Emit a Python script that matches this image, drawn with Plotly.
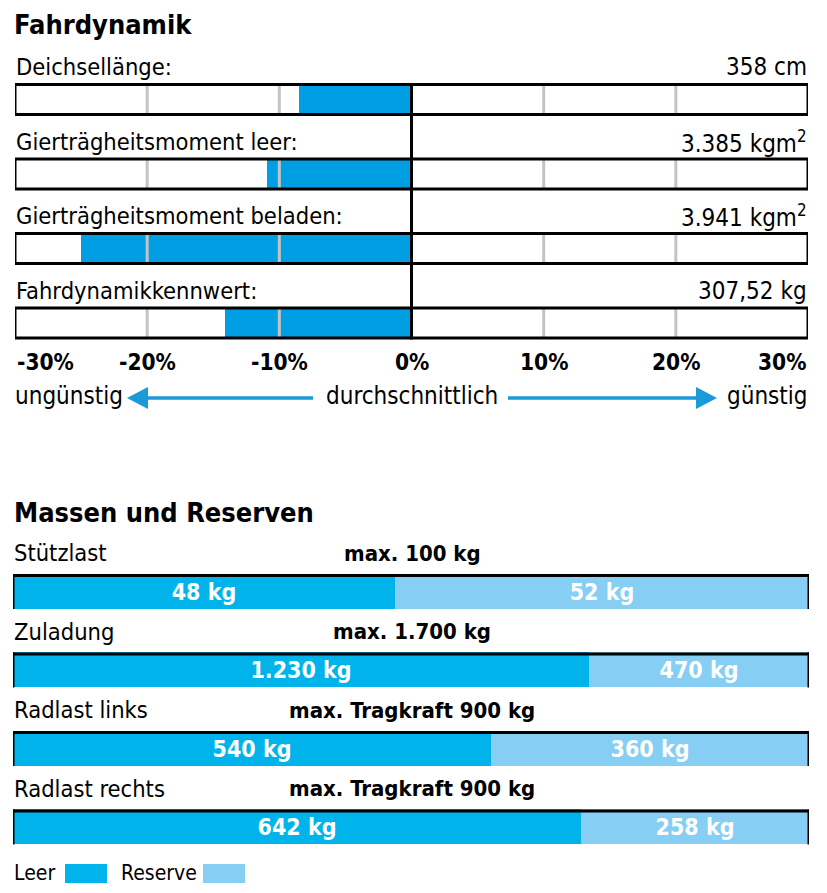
import plotly.graph_objects as go

# ---------------- data ----------------
dyn_labels = ["Deichsellänge:", "Gierträgheitsmoment leer:",
              "Gierträgheitsmoment beladen:", "Fahrdynamikkennwert:"]
dyn_values_text = ["358 cm", "3.385 kgm<sup>2</sup>", "3.941 kgm<sup>2</sup>", "307,52 kg"]
dyn_deviation = [-8.5, -10.9, -25.0, -14.1]          # percent vs. average
tick_vals = [-30, -20, -10, 0, 10, 20, 30]
tick_text = ["-30%", "-20%", "-10%", "0%", "10%", "20%", "30%"]
grid_vals = [-20, -10, 10, 20]

mass_labels = ["Stützlast", "Zuladung", "Radlast links", "Radlast rechts"]
mass_max_prefix = ["max.", "max.", "max. Tragkraft", "max. Tragkraft"]
mass_max = [100, 1700, 900, 900]
mass_leer = [48, 1230, 540, 642]
mass_reserve = [52, 470, 360, 258]

# ---------------- styling ----------------
OFF = 8                      # page body margin of the browser
W, H = 827 - OFF, 893 - OFF
FONT = "DejaVu Sans Condensed, Roboto, sans-serif"
BLUE_TOP = "#009fe3"
BLUE_DARK = "#00b4eb"
BLUE_LIGHT = "#87cef5"
GRID = "#c4c4c4"
ARROW = "#1a9ad8"


def px_x(p):
    return (p - OFF) / W


def px_y(p):
    return 1 - (p - OFF) / H


def de_num(v):
    return f"{v:,}".replace(",", ".")


fig = go.Figure()

rows = list(range(len(dyn_labels)))

# top bars
fig.add_trace(go.Bar(
    x=dyn_deviation, y=rows, orientation="h", width=0.4,
    marker=dict(color=BLUE_TOP, line=dict(width=0)),
    xaxis="x", yaxis="y", showlegend=False, hoverinfo="skip",
))

# bottom stacked bars (fractions of max)
leer_frac = [l / m for l, m in zip(mass_leer, mass_max)]
res_frac = [r / m for r, m in zip(mass_reserve, mass_max)]
fig.add_trace(go.Bar(
    x=leer_frac, y=rows, orientation="h", width=0.446,
    marker=dict(color=BLUE_DARK, line=dict(width=0)),
    text=[de_num(v) + " kg" for v in mass_leer], textposition="inside",
    insidetextanchor="middle", constraintext="none",
    textfont=dict(family=FONT, size=23, color="white", weight="bold"),
    xaxis="x2", yaxis="y2", showlegend=False, hoverinfo="skip", name="Leer",
))
fig.add_trace(go.Bar(
    x=res_frac, y=rows, orientation="h", width=0.446,
    marker=dict(color=BLUE_LIGHT, line=dict(width=0)),
    text=[de_num(v) + " kg" for v in mass_reserve], textposition="inside",
    insidetextanchor="middle", constraintext="none",
    textfont=dict(family=FONT, size=23, color="white", weight="bold"),
    xaxis="x2", yaxis="y2", showlegend=False, hoverinfo="skip", name="Reserve",
))

shapes = []
annotations = []

# top section shapes
half = 0.201
for i in rows:
    for g in grid_vals:
        shapes.append(dict(type="line", xref="x", yref="y", x0=g, x1=g,
                           y0=i - half, y1=i + half,
                           line=dict(color=GRID, width=3), layer="above"))
    shapes.append(dict(type="rect", xref="x", yref="y", x0=tick_vals[0], x1=tick_vals[-1],
                       y0=i - half, y1=i + half,
                       line=dict(color="black", width=3), layer="above"))
shapes.append(dict(type="line", xref="x", yref="y", x0=0, x1=0,
                   y0=rows[0] - half - 0.02, y1=rows[-1] + half + 0.02,
                   line=dict(color="black", width=3), layer="above"))

for i in rows:
    annotations.append(dict(xref="paper", yref="y", x=px_x(14), y=i - 0.43,
                            xanchor="left", yanchor="middle", showarrow=False,
                            text=dyn_labels[i], font=dict(family=FONT, size=23.5, color="black")))
    annotations.append(dict(xref="paper", yref="y", x=px_x(809), y=i - 0.43,
                            xanchor="right", yanchor="middle", showarrow=False,
                            text=dyn_values_text[i], font=dict(family=FONT, size=24, color="black")))

# tick labels
for j, (tv, tt) in enumerate(zip(tick_vals, tick_text)):
    anchor = "left" if j == 0 else ("right" if j == len(tick_vals) - 1 else "center")
    annotations.append(dict(xref="x", yref="paper", x=tv, y=px_y(362),
                            xanchor=anchor, yanchor="middle", showarrow=False,
                            text="<b>" + tt + "</b>", font=dict(family=FONT, size=22.5, color="black")))

# scale description row
ydesc = px_y(396)
annotations.append(dict(xref="paper", yref="paper", x=px_x(13), y=ydesc, xanchor="left",
                        yanchor="middle", showarrow=False, text="ungünstig",
                        font=dict(family=FONT, size=24, color="black")))
annotations.append(dict(xref="x", yref="paper", x=0, y=ydesc, xanchor="center",
                        yanchor="middle", showarrow=False, text="durchschnittlich",
                        font=dict(family=FONT, size=24, color="black")))
annotations.append(dict(xref="paper", yref="paper", x=px_x(810), y=ydesc, xanchor="right",
                        yanchor="middle", showarrow=False, text="günstig",
                        font=dict(family=FONT, size=24, color="black")))

ya = px_y(398)
# left arrow
shapes.append(dict(type="line", xref="paper", yref="paper", x0=px_x(313), x1=px_x(145),
                   y0=ya, y1=ya, line=dict(color=ARROW, width=3.5)))
shapes.append(dict(type="path", xref="paper", yref="paper",
                   path=f"M {px_x(127)} {ya} L {px_x(148)} {px_y(387)} L {px_x(148)} {px_y(409)} Z",
                   fillcolor=ARROW, line=dict(width=0)))
# right arrow
shapes.append(dict(type="line", xref="paper", yref="paper", x0=px_x(508), x1=px_x(700),
                   y0=ya, y1=ya, line=dict(color=ARROW, width=3.5)))
shapes.append(dict(type="path", xref="paper", yref="paper",
                   path=f"M {px_x(717)} {ya} L {px_x(696)} {px_y(387)} L {px_x(696)} {px_y(409)} Z",
                   fillcolor=ARROW, line=dict(width=0)))

# titles
annotations.append(dict(xref="paper", yref="paper", x=px_x(12), y=px_y(24), xanchor="left",
                        yanchor="middle", showarrow=False, text="<b>Fahrdynamik</b>",
                        font=dict(family=FONT, size=27, color="black")))
annotations.append(dict(xref="paper", yref="paper", x=px_x(12), y=px_y(512), xanchor="left",
                        yanchor="middle", showarrow=False, text="<b>Massen und Reserven</b>",
                        font=dict(family=FONT, size=27, color="black")))

# bottom section borders (top, left, right) and labels
bh = 0.223
for i in rows:
    yt = i - bh + 0.02
    shapes.append(dict(type="line", xref="x2", yref="y2", x0=0, x1=1, y0=yt, y1=yt,
                       line=dict(color="black", width=3), layer="above"))
    for xv in (0, 1):
        shapes.append(dict(type="line", xref="x2", yref="y2", x0=xv, x1=xv,
                           y0=i - bh, y1=i + bh,
                           line=dict(color="black", width=3), layer="above"))
    annotations.append(dict(xref="paper", yref="y2", x=px_x(12), y=i - 0.49,
                            xanchor="left", yanchor="middle", showarrow=False,
                            text=mass_labels[i], font=dict(family=FONT, size=23.5, color="black")))
    annotations.append(dict(xref="paper", yref="y2", x=px_x(412), y=i - 0.49,
                            xanchor="center", yanchor="middle", showarrow=False,
                            text="<b>" + mass_max_prefix[i] + " " + de_num(mass_max[i]) + " kg</b>",
                            font=dict(family=FONT, size=22, color="black")))

# custom legend
yl = px_y(873)
annotations.append(dict(xref="paper", yref="paper", x=px_x(12), y=yl, xanchor="left",
                        yanchor="middle", showarrow=False, text="Leer",
                        font=dict(family=FONT, size=21, color="black")))
shapes.append(dict(type="rect", xref="paper", yref="paper", x0=px_x(65), x1=px_x(107),
                   y0=px_y(883), y1=px_y(864), fillcolor=BLUE_DARK, line=dict(width=0)))
annotations.append(dict(xref="paper", yref="paper", x=px_x(119), y=yl, xanchor="left",
                        yanchor="middle", showarrow=False, text="Reserve",
                        font=dict(family=FONT, size=21, color="black")))
shapes.append(dict(type="rect", xref="paper", yref="paper", x0=px_x(203), x1=px_x(245),
                   y0=px_y(883), y1=px_y(864), fillcolor=BLUE_LIGHT, line=dict(width=0)))

fig.update_layout(
    width=W, height=H, autosize=False,
    margin=dict(l=0, r=0, t=0, b=0),
    paper_bgcolor="white", plot_bgcolor="rgba(0,0,0,0)",
    barmode="stack", bargap=0,
    font=dict(family=FONT, color="black"),
    xaxis=dict(domain=[px_x(15), px_x(808)], range=[tick_vals[0], tick_vals[-1]],
               visible=False, fixedrange=True),
    yaxis=dict(domain=[px_y(360.25), px_y(62.25)], range=[3.5, -0.5],
               visible=False, fixedrange=True),
    xaxis2=dict(domain=[px_x(13), px_x(809)], range=[0, 1], anchor="y2",
                visible=False, fixedrange=True),
    yaxis2=dict(domain=[px_y(866.25), px_y(552.25)], range=[3.5, -0.5], anchor="x2",
                visible=False, fixedrange=True),
    shapes=shapes, annotations=annotations,
)

fig.write_html("out.html")
